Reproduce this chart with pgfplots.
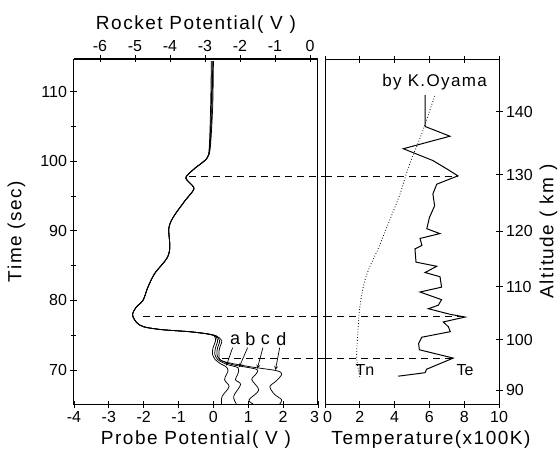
\documentclass[border=0pt]{standalone}
\usepackage{pgfplots}
\pgfplotsset{compat=1.18}
\usepackage{fontspec}
\setmainfont{Liberation Sans}
\newfontfamily\lab{Liberation Sans}[LetterSpace=8]
\begin{document}
\begin{tikzpicture}
\pgfplotsset{
  base/.style={
    scale only axis, width=244pt, height=345pt,
    ymin=65.1, ymax=114.7,
    /pgf/number format/assume math mode=true,
    tick label style={font=\fontsize{16}{18}\selectfont},
    label style={font=\lab\fontsize{19}{22}\selectfont},
    axis line style={line width=1pt},
    tick style={line width=0.8pt, black},
    major tick length=7pt, minor tick length=5pt,
    tick align=center,
  },
  curve/.style={black, line width=0.75pt, smooth, tension=0.5, no marks},
}
% ---------------- left panel ----------------
\begin{axis}[base, name=L, at={(0pt,0pt)}, anchor=south west,
  xmin=-4, xmax=3, xtick={-4,...,3}, xtick pos=left,
  xticklabels={-4,-3,-2,-1,0,1,2,{\makebox[0pt][r]{3\hspace{-1pt}}}},
  ytick={70,80,90,100,110}, minor ytick={75,85,95,105}, ytick pos=left,
  xlabel={Probe Potential( V )}, ylabel={Time (sec)}, clip=false,
  ylabel style={yshift=8pt}, xlabel style={yshift=-2pt}]
% curve a
\addplot[curve] coordinates {(-0.06,114.4) (-0.08,108) (-0.12,102) (-0.19,100.4) (-0.53,99.0) (-0.79,97.7) (-0.68,96.9) (-0.56,96.0) (-0.82,94.3) (-1.16,91.9) (-1.28,90.3) (-1.25,87.6) (-1.34,86.0) (-1.68,83.9) (-1.88,81.9) (-2.02,80.0) (-2.22,79.0) (-2.32,77.9) (-2.2,76.8) (-2.0,76.2) (-1.5,75.8) (-0.7,75.5) (-0.2,75.2) (0.02,74.9) (0.06,74.2) (-0.01,73.2) (-0.03,72.3) (0.05,71.5) (0.2,70.9) (0.35,70.5) (0.42,69.9) (0.32,68.6) (0.45,67.6) (0.25,66.2) (0.23,65.1)};
% curve b
\addplot[curve] coordinates {(-0.04,114.4) (-0.06,108) (-0.11,102) (-0.19,100.4) (-0.53,99.0) (-0.79,97.7) (-0.68,96.9) (-0.56,96.0) (-0.82,94.3) (-1.16,91.9) (-1.28,90.3) (-1.25,87.6) (-1.34,86.0) (-1.68,83.9) (-1.88,81.9) (-2.02,80.0) (-2.22,79.0) (-2.32,77.9) (-2.2,76.8) (-2.0,76.2) (-1.5,75.8) (-0.7,75.5) (-0.2,75.2) (0.04,74.9) (0.12,74.2) (0.06,73.2) (0.04,72.3) (0.12,71.5) (0.38,70.8) (0.71,70.3) (0.70,69.4) (0.63,68.6) (0.78,67.9) (0.58,66.2) (0.66,65.1)};
% curve c
\addplot[curve] coordinates {(-0.02,114.4) (-0.04,108) (-0.1,102) (-0.19,100.4) (-0.53,99.0) (-0.79,97.7) (-0.68,96.9) (-0.56,96.0) (-0.82,94.3) (-1.16,91.9) (-1.28,90.3) (-1.25,87.6) (-1.34,86.0) (-1.68,83.9) (-1.88,81.9) (-2.02,80.0) (-2.22,79.0) (-2.32,77.9) (-2.2,76.8) (-2.0,76.2) (-1.5,75.8) (-0.7,75.5) (-0.2,75.2) (0.06,74.9) (0.18,74.2) (0.12,73.2) (0.1,72.3) (0.18,71.5) (0.55,70.75) (1.23,70.1) (1.22,69.4) (1.1,68.6) (1.3,67.1) (1.02,65.7) (1.14,65.1)};
% curve d
\addplot[curve] coordinates {(0.0,114.4) (-0.02,108) (-0.09,102) (-0.19,100.4) (-0.53,99.0) (-0.79,97.7) (-0.68,96.9) (-0.56,96.0) (-0.82,94.3) (-1.16,91.9) (-1.28,90.3) (-1.25,87.6) (-1.34,86.0) (-1.68,83.9) (-1.88,81.9) (-2.02,80.0) (-2.22,79.0) (-2.32,77.9) (-2.2,76.8) (-2.0,76.2) (-1.5,75.8) (-0.7,75.5) (-0.2,75.2) (0.08,74.9) (0.24,74.2) (0.18,73.2) (0.16,72.3) (0.24,71.3) (1.0,70.5) (1.8,69.9) (1.96,69.4) (1.8,68.4) (1.62,67.6) (1.75,66.5) (1.96,65.7) (1.9,65.1)};
% dashed lines
\addplot[black, dash pattern=on 7pt off 5pt, line width=0.8pt] coordinates {(-0.7,97.8) (3.2,97.8)};
\addplot[black, dash pattern=on 7pt off 5pt, line width=0.8pt] coordinates {(-2.02,77.7) (3.2,77.7)};
\addplot[black, dash pattern=on 7pt off 5pt, line width=0.8pt] coordinates {(0.24,71.7) (3.2,71.7)};
% labels a b c d with arrows
\node[font=\fontsize{18}{20}\selectfont] at (axis cs:0.62,74.4) {a};
\node[font=\fontsize{18}{20}\selectfont] at (axis cs:1.06,74.4) {b};
\node[font=\fontsize{18}{20}\selectfont] at (axis cs:1.49,74.4) {c};
\node[font=\fontsize{18}{20}\selectfont] at (axis cs:1.95,74.4) {d};
\draw[-stealth, line width=0.7pt] (axis cs:0.55,73.2) -- (axis cs:0.37,70.6);
\draw[-stealth, line width=0.7pt] (axis cs:0.98,73.2) -- (axis cs:0.74,70.4);
\draw[-stealth, line width=0.7pt] (axis cs:1.42,73.2) -- (axis cs:1.26,70.2);
\draw[-stealth, line width=0.7pt] (axis cs:1.9,73.2) -- (axis cs:1.78,70.0);
\end{axis}
% ---------------- top axis (rocket potential) ----------------
\begin{axis}[base, at={(0pt,0pt)}, anchor=south west,
  xmin=-6.743, xmax=0.229, axis x line*=top, axis y line=none,
  xtick={-6,...,0}, xlabel={Rocket Potential( V )}]
\end{axis}
% ---------------- right panel ----------------
\begin{axis}[base, width=174pt, at={(251pt,0pt)}, anchor=south west,
  xmin=0, xmax=10, xtick={0,2,...,10}, xtick pos=both, xticklabel pos=left,
  xticklabels={{\makebox[0pt][l]{\hspace{-2pt}0}},2,4,6,8,10},
  ytick={67.12,74.32,81.94,89.93,98.06,107.12},
  yticklabels={90,100,110,120,130,140},
  ytick pos=right, yticklabel pos=right,
  xlabel={Temperature(x100K)}, ylabel={Altitude ( km )},
  xlabel style={xshift=19pt, yshift=-2pt}]
% Te
\addplot[black, line width=1pt, no marks] coordinates {(5.75,109.5) (5.75,105.0) (7.18,103.6) (4.5,101.8) (6.2,100.1) (7.0,98.9) (7.64,97.9) (6.42,96.7) (6.2,95.3) (6.3,93.6) (6.0,91.9) (5.85,90.3) (6.6,89.6) (5.46,88.9) (5.57,87.9) (5.17,87.4) (5.23,85.5) (6.42,84.9) (5.75,84.0) (6.61,83.4) (6.7,81.9) (5.46,81.2) (6.7,80.1) (6.51,79.3) (5.94,78.8) (7.18,78.0) (8.05,77.6) (6.8,76.9) (7.09,76.2) (7.2,75.5) (5.56,74.7) (5.38,73.8) (5.42,72.9) (7.37,71.7) (5.84,70.1) (5.75,69.6) (4.21,69.1)};
% Tn
\addplot[black, dotted, line width=0.8pt, smooth, no marks] coordinates {(2.0,69.0) (1.82,71.7) (1.88,75) (2.0,79) (2.25,82.5) (2.6,85) (3.0,87.1) (3.7,91.4) (4.3,95.2) (4.6,97.6) (5.0,100.5) (5.46,103.3) (5.9,106.4) (6.32,109.5)};
% dashed
\addplot[black, dash pattern=on 7pt off 5pt, line width=0.8pt] coordinates {(0,97.8) (7.64,97.8)};
\addplot[black, dash pattern=on 7pt off 5pt, line width=0.8pt] coordinates {(0,77.7) (8.05,77.7)};
\addplot[black, dash pattern=on 7pt off 5pt, line width=0.8pt] coordinates {(0,71.7) (7.37,71.7)};
\node[font=\fontsize{16}{18}\selectfont] at (axis cs:2.3,70.0) {Tn};
\node[font=\fontsize{16}{18}\selectfont] at (axis cs:8.05,70.0) {Te};
\node[font=\lab\fontsize{17}{19}\selectfont] at (axis cs:6.3,111.4) {by K.Oyama};
\end{axis}
\pgfresetboundingbox
\path (-74pt,-54pt) rectangle (485pt,404pt);
\end{tikzpicture}
\end{document}
